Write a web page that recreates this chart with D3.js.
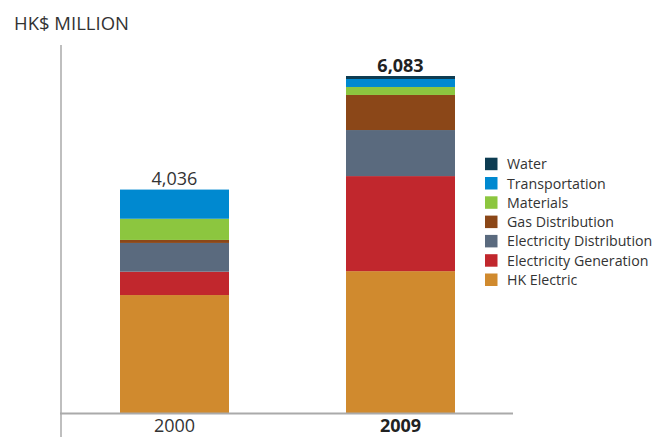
<!DOCTYPE html>
<html>
<head>
<meta charset="utf-8">
<script src="https://cdn.jsdelivr.net/npm/d3@7"></script>
<style>
  html, body { margin: 0; padding: 0; background: #fff; }
  svg { display: block; font-family: "Open Sans", sans-serif; }
</style>
</head>
<body>
<svg id="chart" width="654" height="437"></svg>
<script>
const years = ["2000", "2009"];
const seriesNames = ["HK Electric", "Electricity Generation", "Electricity Distribution", "Gas Distribution", "Materials", "Transportation", "Water"];
const hkElectric = [2135, 2566];
const electricityGeneration = [421, 1713];
const electricityDistribution = [518, 830];
const gasDistribution = [54, 632];
const materials = [382, 144];
const transportation = [526, 144];
const water = [0, 54];
const totals = [4036, 6083];
const totalLabels = ["4,036", "6,083"];
const colors = ["#d08a2e", "#c1272d", "#5a6a7e", "#8b4718", "#8cc63f", "#0089d0", "#0d3c52"];

const seriesValues = [hkElectric, electricityGeneration, electricityDistribution, gasDistribution, materials, transportation, water];
const rows = years.map((y, i) => {
  const r = { year: y };
  seriesNames.forEach((s, j) => r[s] = seriesValues[j][i]);
  return r;
});

const svg = d3.select("#chart");
const x = d3.scaleBand().domain(years).range([63.5, 511.5]).paddingInner(0.5177).paddingOuter(0.25);
const y = d3.scaleLinear().domain([0, 6083]).range([413.5, 76]);
const color = d3.scaleOrdinal().domain(seriesNames).range(colors);

const stack = d3.stack().keys(seriesNames)(rows);

svg.append("g").selectAll("g").data(stack).join("g")
  .attr("fill", d => color(d.key))
  .selectAll("rect").data(d => d).join("rect")
  .attr("x", d => x(d.data.year))
  .attr("width", x.bandwidth())
  .attr("y", d => y(d[1]))
  .attr("height", d => y(d[0]) - y(d[1]));

// axes
svg.append("line").attr("x1", 61).attr("x2", 61).attr("y1", 45).attr("y2", 437)
  .attr("stroke", "#aaa").attr("stroke-width", 1.5);
svg.append("line").attr("x1", 60).attr("x2", 513).attr("y1", y(0)).attr("y2", y(0))
  .attr("stroke", "#aaa").attr("stroke-width", 2);

// x labels
svg.append("g").selectAll("text").data(years).join("text")
  .attr("x", d => x(d) + x.bandwidth() / 2)
  .attr("y", 432)
  .attr("text-anchor", "middle")
  .attr("font-size", 18)
  .attr("font-weight", (d, i) => i === 1 ? "bold" : "normal")
  .attr("fill", (d, i) => i === 1 ? "#222" : "#333")
  .text(d => d);

// total labels
svg.append("g").selectAll("text").data(years).join("text")
  .attr("x", d => x(d) + x.bandwidth() / 2)
  .attr("y", (d, i) => y(totals[i]) - 4.5)
  .attr("text-anchor", "middle")
  .attr("font-size", 18)
  .attr("font-weight", (d, i) => i === 1 ? "bold" : "normal")
  .attr("fill", (d, i) => i === 1 ? "#222" : "#333")
  .text((d, i) => totalLabels[i]);

// title
svg.append("text").attr("x", 14).attr("y", 30).attr("font-size", 18.5).attr("fill", "#333")
  .text("HK$ MILLION");

// legend
const legendOrder = seriesNames.slice().reverse();
const lg = svg.append("g").selectAll("g").data(legendOrder).join("g")
  .attr("transform", (d, i) => `translate(485, ${157.7 + i * 19.3})`);
lg.append("rect").attr("width", 12.5).attr("height", 12.5).attr("fill", d => color(d));
lg.append("text").attr("x", 22).attr("y", 11.5).attr("font-size", 14.2).attr("fill", "#333").text(d => d);
</script>
</body>
</html>
